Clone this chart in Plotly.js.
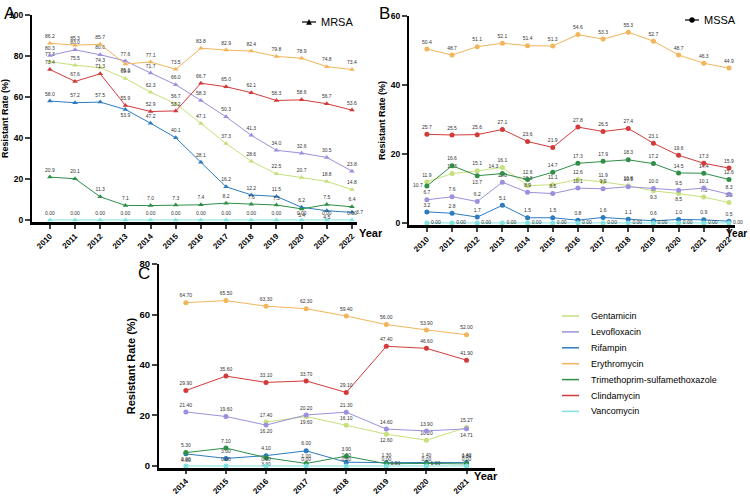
<!DOCTYPE html>
<html><head><meta charset="utf-8">
<script src="https://cdn.plot.ly/plotly-3.0.1.min.js"></script>
<style>body{margin:0;background:#fff}#chart{width:750px;height:497px}</style>
</head><body><div id="chart"></div>
<script>
// ---- data ----
const drugs = ['Gentamicin','Levofloxacin','Rifampin','Erythromycin','Trimethoprim-sulfamethoxazole','Clindamycin','Vancomycin'];
const yearsAB = [2010,2011,2012,2013,2014,2015,2016,2017,2018,2019,2020,2021,2022];
const yearsC = [2014,2015,2016,2017,2018,2019,2020,2021];
const tickLabelsAB = ['2010','2011','2012','2013','2014','2015','2016','2017','2018','2019','2020','2021','2022'];
const tickLabelsC = ['2014','2015','2016','2017','2018','2019','2020','2021'];
const groupNames = ['MRSA','MSSA'];

// Panel A: MRSA
const mrsaGentamicin   = [77.3,75.5,74.3,69.0,62.3,56.7,47.1,37.3,28.6,22.5,20.7,18.8,14.8];
const mrsaLevofloxacin = [80.3,83.0,80.6,77.6,71.7,66.0,58.3,50.3,41.3,34.0,32.6,30.5,23.8];
const mrsaRifampin     = [58.0,57.2,57.5,53.9,47.2,40.1,28.1,16.2,12.2,11.5,6.2,4.5,3.7];
const mrsaErythromycin = [86.2,85.3,85.7,76.1,77.1,73.5,83.8,82.9,82.4,79.8,78.9,74.8,73.4];
const mrsaTrimethoprim = [20.9,20.1,11.3,7.1,7.0,7.3,7.4,8.2,7.6,7.3,5.4,7.5,6.4];
const mrsaClindamycin  = [73.4,67.6,71.3,55.9,52.9,53.2,66.7,65.0,62.1,58.3,58.6,56.7,53.6];
const mrsaVancomycin   = [0,0,0,0,0,0,0,0,0,0,0,0,0];

// Panel B: MSSA
const mssaGentamicin   = [11.9,14.3,15.1,16.1,10.8,11.1,12.6,11.9,10.8,9.3,8.5,7.5,5.9];
const mssaLevofloxacin = [6.7,7.6,6.2,11.8,8.9,8.5,10.1,9.9,10.5,10.0,9.5,10.1,8.3];
const mssaRifampin     = [3.2,2.8,1.7,5.1,1.5,1.5,0.8,1.6,1.1,0.6,1.0,0.9,0.5];
const mssaErythromycin = [50.4,48.7,51.1,52.1,51.4,51.3,54.6,53.3,55.3,52.7,48.7,46.3,44.9];
const mssaTrimethoprim = [10.7,16.6,13.7,14.3,12.6,14.7,17.3,17.9,18.3,17.2,14.5,14.4,12.6];
const mssaClindamycin  = [25.7,25.5,25.6,27.1,23.6,21.9,27.8,26.5,27.4,23.1,19.6,17.3,15.9];
const mssaVancomycin   = [0,0,0,0,0,0,0,0,0,0,0,0,0];

// Panel C
const cGentamicin   = [null,null,17.40,19.60,16.10,12.60,10.20,15.27];
const cLevofloxacin = [21.40,19.60,16.20,20.20,21.30,14.60,13.90,14.71];
const cRifampin     = [4.80,3.00,4.10,6.00,1.50,1.30,1.40,1.40];
const cErythromycin = [64.70,65.50,63.30,62.30,59.40,56.00,53.90,52.00];
const cTrimethoprim = [5.30,7.10,3.30,1.00,3.90,0.90,1.00,0.84];
const cClindamycin  = [29.90,35.60,33.10,33.70,29.10,47.40,46.60,41.90];
const cVancomycin   = [0,0,0,0,0,0,0,0];

// ---- styles ----
const colors = {
  'Gentamicin':'#c6e07c','Levofloxacin':'#9b90de','Rifampin':'#2d7cbf','Erythromycin':'#f2b55a',
  'Trimethoprim-sulfamethoxazole':'#2f8f47','Clindamycin':'#d33b3b','Vancomycin':'#7fe2df'
};
const labelPos = {
  A: {Rifampin:{3:'bottom center',11:'bottom center',12:'middle right'}, Erythromycin:{3:'bottom center'},
      'Trimethoprim-sulfamethoxazole':{10:'bottom center'}},
  B: {'Trimethoprim-sulfamethoxazole':{0:'middle left',2:'bottom center',3:'top left'},
      Gentamicin:{9:'bottom center',10:'bottom center'}, Vancomycin:'middle right'},
  C: {Gentamicin:{3:'bottom center',5:'bottom center'}, Levofloxacin:{2:'bottom center',7:'bottom center'},
      Rifampin:{0:'bottom center'}, 'Trimethoprim-sulfamethoxazole':{2:'bottom center',5:'middle right',6:'middle right'}}
};

const panels = [
  {key:'A', x:yearsAB, xa:'x', ya:'y', symbol:'triangle-up', dec:1,
   series:[mrsaGentamicin,mrsaLevofloxacin,mrsaRifampin,mrsaErythromycin,mrsaTrimethoprim,mrsaClindamycin,mrsaVancomycin]},
  {key:'B', x:yearsAB, xa:'x2', ya:'y2', symbol:'circle', dec:1,
   series:[mssaGentamicin,mssaLevofloxacin,mssaRifampin,mssaErythromycin,mssaTrimethoprim,mssaClindamycin,mssaVancomycin]},
  {key:'C', x:yearsC, xa:'x3', ya:'y3', symbol:'circle', dec:2,
   series:[cGentamicin,cLevofloxacin,cRifampin,cErythromycin,cTrimethoprim,cClindamycin,cVancomycin]}
];

const traces = [];
panels.forEach(p => {
  p.series.forEach((vals, i) => {
    const drug = drugs[i];
    const ov = (labelPos[p.key]||{})[drug];
    const pos = vals.map((v, j) => typeof ov === 'string' ? ov : (ov && ov[j]) ? ov[j] : 'top center');
    const dec = drug === 'Vancomycin' ? 2 : p.dec;
    traces.push({
      type:'scatter', mode:'lines+markers+text', x:p.x, y:vals, xaxis:p.xa, yaxis:p.ya,
      name:drug, showlegend:false, connectgaps:false, cliponaxis:false,
      line:{color:colors[drug], width:1},
      marker:{symbol:p.symbol, size:5, color:colors[drug]},
      text: vals.map(v => v === null ? '' : v.toFixed(dec)),
      textposition: pos,
      textfont:{size:5, color:'#333', family:'Liberation Sans'},
      hoverinfo:'skip'
    });
  });
});

const W = 750, H = 497;
const fx = px => px / W, fy = px => 1 - px / H;
const F = 'Liberation Sans';
function xAxis(dom, rng, vals, labels, ya, fs, tl) {
  return {domain:[fx(dom[0]), fx(dom[1])], range:rng, anchor:ya, tickvals:vals, ticktext:labels,
    tickangle:-45, showline:true, linewidth:2.5, linecolor:'#000', ticks:'outside', ticklen:tl, tickwidth:2,
    showgrid:false, zeroline:false, tickfont:{family:F, size:fs, color:'#000', weight:'bold'}};
}
function yAxis(dom, rng, dtick, xa, fs, tfs, so) {
  return {domain:[fy(dom[1]), fy(dom[0])], range:rng, anchor:xa, dtick:dtick, showline:true, linewidth:2,
    linecolor:'#000', ticks:'outside', ticklen:5, tickwidth:2, showgrid:false, zeroline:false,
    tickfont:{family:F, size:fs, color:'#000', weight:'bold'},
    title:{text:'Resistant Rate (%)', font:{family:F, size:tfs, color:'#000', weight:'bold'}, standoff:so}};
}

// manual legend (drug colours) and group keys
const shapes = [], annotations = [];
drugs.forEach((d, i) => {
  const yy = 316 + i * 15.9;
  shapes.push({type:'line', xref:'paper', yref:'paper', x0:fx(562), x1:fx(579), y0:fy(yy), y1:fy(yy),
    line:{color:colors[d], width:1.5}});
  annotations.push({text:d, x:fx(589), y:fy(yy), xref:'paper', yref:'paper', xanchor:'left', yanchor:'middle',
    showarrow:false, font:{family:F, size:9, color:'#000'}});
});
// MRSA key
shapes.push({type:'line', xref:'paper', yref:'paper', x0:fx(302), x1:fx(316), y0:fy(22), y1:fy(22), line:{color:'#000', width:1.2}});
shapes.push({type:'path', xref:'paper', yref:'paper',
  path:`M ${fx(306.5)} ${fy(24.5)} L ${fx(311.5)} ${fy(24.5)} L ${fx(309)} ${fy(19.5)} Z`, fillcolor:'#000', line:{color:'#000', width:0.5}});
annotations.push({text:groupNames[0], x:fx(319), y:fy(22), xref:'paper', yref:'paper', xanchor:'left', yanchor:'middle', showarrow:false, font:{family:F, size:11, color:'#000'}});
// MSSA key
shapes.push({type:'line', xref:'paper', yref:'paper', x0:fx(685), x1:fx(699), y0:fy(20), y1:fy(20), line:{color:'#000', width:1.2}});
shapes.push({type:'circle', xref:'paper', yref:'paper', x0:fx(689.5), x1:fx(694.5), y0:fy(22.5), y1:fy(17.5), fillcolor:'#000', line:{color:'#000', width:0.5}});
annotations.push({text:groupNames[1], x:fx(702), y:fy(20), xref:'paper', yref:'paper', xanchor:'left', yanchor:'middle', showarrow:false, font:{family:F, size:11, color:'#000'}});

[['A',2,2],['B',377,2],['C',136,262]].forEach(([t,x,y]) => annotations.push(
  {text:t, x:fx(x), y:fy(y), xref:'paper', yref:'paper', xanchor:'left', yanchor:'top', showarrow:false, font:{family:F, size:17, color:'#000'}}));
[[357,233,11],[724,233,10],[472,476,11]].forEach(([x,y,s]) => annotations.push(
  {text:'Year', x:fx(x), y:fy(y), xref:'paper', yref:'paper', xanchor:'left', yanchor:'middle', showarrow:false, font:{family:F, size:s, color:'#000', weight:'bold'}}));

const layout = {
  width:W, height:H, margin:{l:0,r:0,t:0,b:0}, paper_bgcolor:'#fff', plot_bgcolor:'rgba(0,0,0,0)',
  font:{family:F}, showlegend:false,
  xaxis: xAxis([32,357],[2009.29,2022.2],yearsAB,tickLabelsAB,'y',8,4),
  yaxis: yAxis([15,222],[-1,100],20,'x',8.5,9,4),
  xaxis2: xAxis([409,735],[2009.29,2022.24],yearsAB,tickLabelsAB,'y2',8,4),
  yaxis2: yAxis([16,225],[-0.6,60],20,'x2',8.5,9,4),
  xaxis3: xAxis([159,495],[2013.33,2021.71],yearsC,tickLabelsC,'y3',8,3),
  yaxis3: yAxis([264,468],[-0.8,80],20,'x3',9.5,11,2),
  shapes, annotations
};
Plotly.newPlot('chart', traces, layout, {displayModeBar:false, staticPlot:true});
</script></body></html>
